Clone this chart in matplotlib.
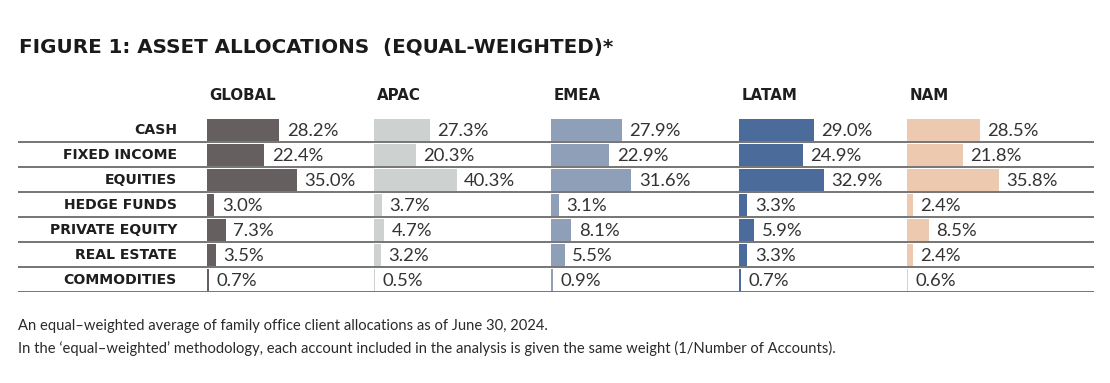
import matplotlib.pyplot as plt
import numpy as np

# data
categories = ["CASH", "FIXED INCOME", "EQUITIES", "HEDGE FUNDS",
              "PRIVATE EQUITY", "REAL ESTATE", "COMMODITIES"]
regions = ["GLOBAL", "APAC", "EMEA", "LATAM", "NAM"]
global_vals = [28.2, 22.4, 35.0, 3.0, 7.3, 3.5, 0.7]
apac_vals = [27.3, 20.3, 40.3, 3.7, 4.7, 3.2, 0.5]
emea_vals = [27.9, 22.9, 31.6, 3.1, 8.1, 5.5, 0.9]
latam_vals = [29.0, 24.9, 32.9, 3.3, 5.9, 3.3, 0.7]
nam_vals = [28.5, 21.8, 35.8, 2.4, 8.5, 2.4, 0.6]
series = [global_vals, apac_vals, emea_vals, latam_vals, nam_vals]

title = "FIGURE 1: ASSET ALLOCATIONS  (EQUAL-WEIGHTED)*"
notes = ["An equal\u2013weighted average of family office client allocations as of June 30, 2024.",
         "In the \u2018equal\u2013weighted\u2019 methodology, each account included in the analysis "
         "is given the same weight (1/Number of Accounts)."]

colors = ["#65605f", "#cdd2d0", "#8e9fb7", "#4b6b9a", "#edcaaf"]

# layout in pixels (figure is 1110 x 383)
W, H = 1110, 383
col_left = [206.7, 374.3, 550.7, 739.0, 906.7]
px_per_pct = [2.58, 2.04, 2.55, 2.57, 2.57]
col_w = 160
tab_top, tab_bot = 117.3, 292.3

lab_font = ["DejaVu Sans"]
num_font = ["Lato", "DejaVu Sans"]
note_font = ["Lato", "DejaVu Sans"]

fig = plt.figure(figsize=(W / 100, H / 100), dpi=100)
fig.patch.set_facecolor("white")

n = len(categories)
y = np.arange(n)

# background axes: separators + row labels
bg = fig.add_axes([18 / W, 1 - tab_bot / H, (1094 - 18) / W, (tab_bot - tab_top) / H])
bg.set_ylim(n - 0.5, -0.5)
bg.set_xlim(0, 1)
bg.axis("off")
for k in range(n):
    bg.axhline(k + 0.5, color="#5e5e5e", lw=1.2)
for k, c in enumerate(categories):
    bg.text((177 - 18) / (1094 - 18), k, c, ha="right", va="center",
            fontsize=10.1, fontweight="bold", family=lab_font, color="#1e1e1e")

for i, (reg, vals) in enumerate(zip(regions, series)):
    ax = fig.add_axes([col_left[i] / W, 1 - tab_bot / H, col_w / W, (tab_bot - tab_top) / H])
    ax.patch.set_alpha(0)
    ax.set_ylim(n - 0.5, -0.5)
    ax.set_xlim(0, col_w / px_per_pct[i])
    ax.axis("off")
    ax.barh(y, vals, height=0.87, color=colors[i])
    for k, v in enumerate(vals):
        ax.annotate(f"{v:.1f}%", (v, k), xytext=(5.5, -1), textcoords="offset points",
                    ha="left", va="center", fontsize=13.3, fontweight="normal",
                    family=num_font, color="#333333")
    fig.text((col_left[i] + 3) / W, 1 - 96 / H, reg, ha="left", va="center",
             fontsize=10.8, fontweight="bold", family=lab_font, color="#1e1e1e")

fig.text(19 / W, 1 - 47 / H, title, ha="left", va="center", fontsize=14.3,
         fontweight="bold", family=lab_font, color="#1a1a1a")
fig.text(18 / W, 1 - 326 / H, notes[0], ha="left", va="center", fontsize=10.6,
         family=note_font, color="#2a2a2a")
fig.text(18 / W, 1 - 348 / H, notes[1], ha="left", va="center", fontsize=10.6,
         family=note_font, color="#2a2a2a")

plt.savefig("out.png", dpi=100)
